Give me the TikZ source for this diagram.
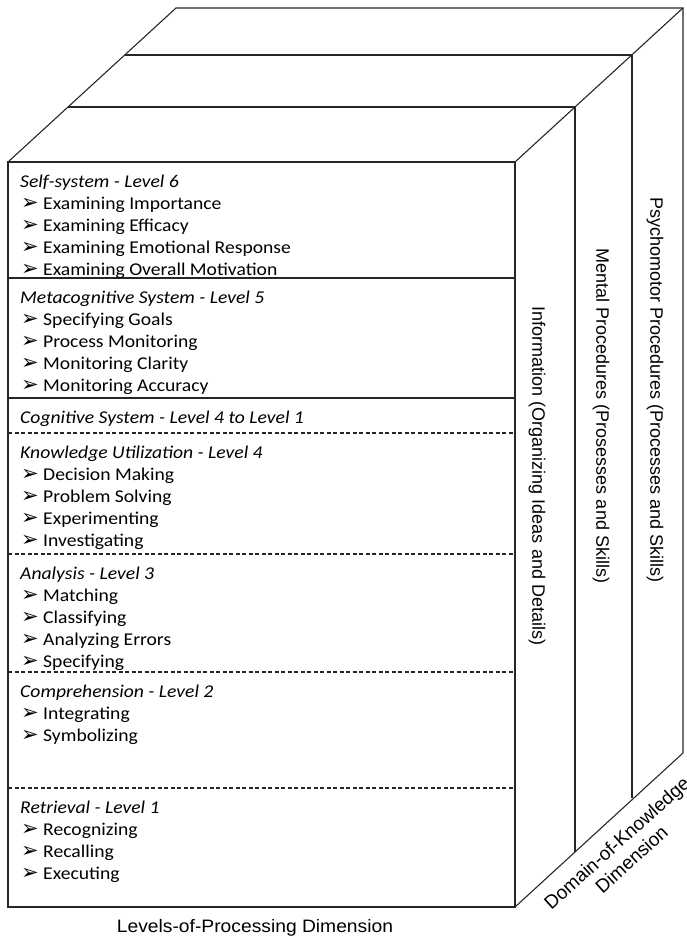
\documentclass[tikz,border=0pt]{standalone}
\usepackage{fontspec}
\setmainfont{Carlito}
\newfontfamily\boxfont{Carlito}[FakeStretch=1.09]
\newfontfamily\dimfont{Liberation Sans}
\newfontfamily\widefont{Liberation Sans}[FakeStretch=1.07]
\newfontfamily\tipfont{DejaVu Sans}
\newcommand{\tip}{\hspace*{1pt}\makebox[22pt][l]{\tipfont\fontsize{21}{21}\selectfont ➢}}

\tikzset{
  edge/.style={line width=1.1pt, black!85},
  split/.style={edge, dash pattern=on 4pt off 2.5pt},
  head/.style={anchor=base west, inner sep=0pt, font=\boxfont\itshape\fontsize{18}{22}\selectfont},
  entry/.style={anchor=base west, inner sep=0pt, font=\boxfont\fontsize{18}{22}\selectfont},
  dimlabel/.style={inner sep=0pt, font=\dimfont\fontsize{18}{22}\selectfont},
}

% one level of the front face: name, top line, heading, items
\newcommand{\levelbox}[4]{%
  \node[head] (#1) at (20,#2+25.5) {#3};
  \foreach \entrytext [count=\k] in {#4}
    \node[entry] (#1-\k) at (20,#2+25.5+22*\k) {\tip\entrytext};
}

\begin{document}
\begin{tikzpicture}[x=1pt,y=-1pt]
  \useasboundingbox (0,0) rectangle (686,939);
  % front face and the three slabs behind it
  \draw[edge] (8,162) rectangle (515,907);
  \draw[edge] (8,162) -- (176,8) -- (683,8) -- (683,753) -- (515,907);
  \draw[edge] (515,162) -- (683,8);
  \draw[edge] (68,107) -- (575,107) -- (575,852);
  \draw[edge] (125,55) -- (632,55) -- (632,798);
  % separators between the levels
  \draw[edge] (8,278) -- (515,278);
  \draw[edge] (8,398) -- (515,398);
  \foreach \y in {433,554,672,788}
    \draw[split] (8,\y) -- (515,\y);

  \levelbox{self}{162}{Self-system - Level 6}{Examining Importance,Examining Efficacy,Examining Emotional Response,Examining Overall Motivation}
  \levelbox{meta}{278}{Metacognitive System - Level 5}{Specifying Goals,Process Monitoring,Monitoring Clarity,Monitoring Accuracy}
  \node[head] (cog) at (20,423.5) {Cognitive System - Level 4 to Level 1};
  \levelbox{use}{433}{Knowledge Utilization - Level 4}{Decision Making,Problem Solving,Experimenting,Investigating}
  \levelbox{ana}{554}{Analysis - Level 3}{Matching,Classifying,Analyzing Errors,Specifying}
  \levelbox{comp}{672}{Comprehension - Level 2}{Integrating,Symbolizing}
  \levelbox{ret}{788}{Retrieval - Level 1}{Recognizing,Recalling,Executing}

  % dimension labels
  \node[dimlabel, rotate=-90] (info) at (537,476) {Information (Organizing Ideas and Details)};
  \node[dimlabel, rotate=-90] (mental) at (601,416) {Mental Procedures (Prosesses and Skills)};
  \node[dimlabel, rotate=-90] (psycho) at (655,390) {Psychomotor Procedures (Processes and Skills)};
  \node[dimlabel, font=\widefont\fontsize{18}{22}\selectfont] (levels) at (255,928) {Levels-of-Processing Dimension};
  \node[dimlabel, rotate=42, align=center, font=\dimfont\fontsize{19}{22}\selectfont] (domain) at (624,851) {Domain-of-Knowledge\\Dimension};
\end{tikzpicture}
\end{document}
